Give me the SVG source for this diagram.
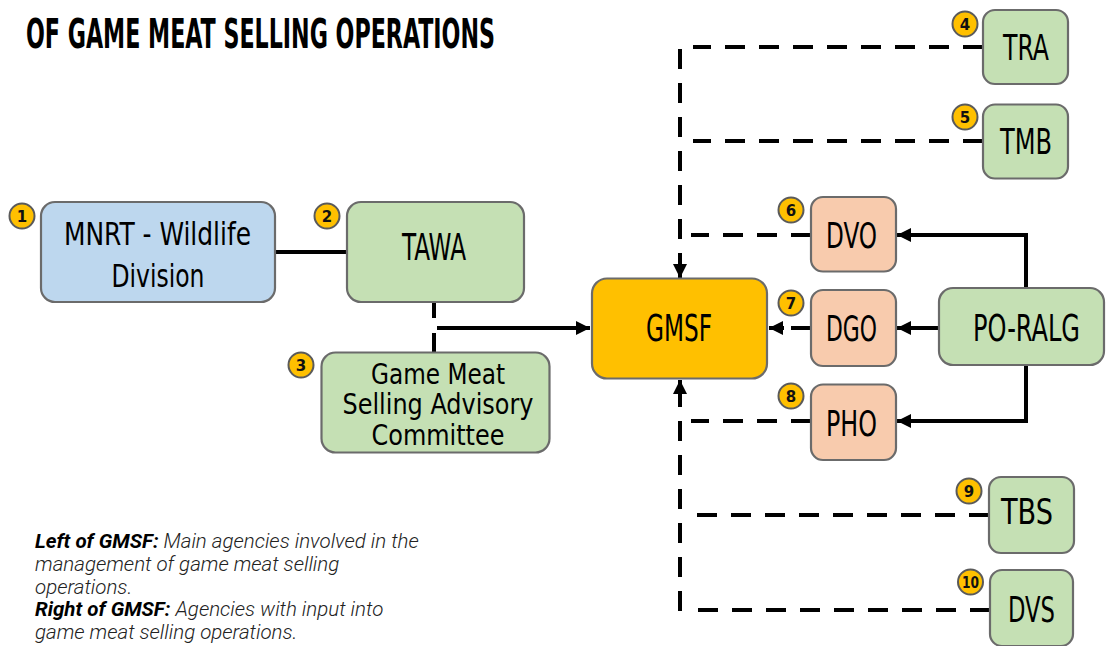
<svg xmlns="http://www.w3.org/2000/svg" width="1106" height="646" viewBox="0 0 1106 646">
<defs>
<style>
.box{stroke:#6b6b6b;stroke-width:2.2}
.blue{fill:#bdd7ee}
.green{fill:#c5e0b4}
.salmon{fill:#f8cbad}
.gold{fill:#ffc000}
.lbl{font-family:'DejaVu Sans Condensed','DejaVu Sans',sans-serif;font-stretch:condensed;fill:#000;text-anchor:middle}
.badge circle{fill:#ffc000;stroke:#5a5a5a;stroke-width:2}
.badge text{font-family:'DejaVu Sans','Liberation Sans',sans-serif;font-weight:bold;font-size:15px;text-anchor:middle;fill:#111}
.solid{fill:none;stroke:#000;stroke-width:4}
.dash{fill:none;stroke:#000;stroke-width:4;stroke-dasharray:20 14}
.cap{font-family:Roboto,'Liberation Sans',sans-serif;font-style:italic;font-size:20.5px;font-weight:300;fill:#222}
.cap .b{font-weight:bold;fill:#000}
</style>
<marker id="arr" viewBox="0 0 14 14" refX="14" refY="7" markerWidth="14" markerHeight="14" markerUnits="userSpaceOnUse" orient="auto">
<path d="M0,0 L14,7 L0,14 z" fill="#000"/>
</marker>
</defs>
<rect width="1106" height="646" fill="#fff"/>

<text x="26" y="48" font-family="'DejaVu Sans Condensed','DejaVu Sans',sans-serif" font-weight="bold" font-size="41" textLength="469" lengthAdjust="spacingAndGlyphs" fill="#000">OF GAME MEAT SELLING OPERATIONS</text>

<g id="connectors">
<path class="solid" d="M275,252 H347"/>
<path class="solid" d="M434,302 V318 M434,333 V352"/>
<path class="solid" d="M437,328 H590" marker-end="url(#arr)"/>
<path class="dash" d="M983,47 H693 M680,49 V278" />
<path class="solid" d="M680,262 V278" marker-end="url(#arr)"/>
<path class="dash" d="M983,141 H693"/>
<path class="dash" d="M811,235 H691"/>
<path class="dash" d="M990,610 H697 M680,611 V381"/>
<path class="solid" d="M680,396 V380" marker-end="url(#arr)"/>
<path class="dash" d="M989,515 H697"/>
<path class="dash" d="M811,421 H691"/>
<path class="solid" d="M811,328 H791"/>
<path class="solid" d="M784,328 H769" marker-end="url(#arr)"/>
<path class="solid" d="M939,328 H897" marker-end="url(#arr)"/>
<path class="solid" d="M1026,288 V235 H897" marker-end="url(#arr)"/>
<path class="solid" d="M1026,366 V421 H897" marker-end="url(#arr)"/>
</g>

<g id="mnrt">
<rect class="box blue" x="41" y="202" width="234" height="100" rx="14"/>
<text class="lbl" x="157.5" y="245" font-size="32" textLength="187" lengthAdjust="spacingAndGlyphs">MNRT - Wildlife</text>
<text class="lbl" x="158" y="286.5" font-size="32" textLength="93" lengthAdjust="spacingAndGlyphs">Division</text>
</g>
<g id="tawa">
<rect class="box green" x="347" y="202" width="177" height="100" rx="14"/>
<text class="lbl" x="434" y="260" font-size="37" textLength="64" lengthAdjust="spacingAndGlyphs">TAWA</text>
</g>
<g id="advisory">
<rect class="box green" x="321.5" y="352.5" width="228" height="100" rx="14"/>
<text class="lbl" x="438" y="384" font-size="29" textLength="134" lengthAdjust="spacingAndGlyphs">Game Meat</text>
<text class="lbl" x="438" y="414" font-size="29" textLength="191" lengthAdjust="spacingAndGlyphs">Selling Advisory</text>
<text class="lbl" x="438" y="445" font-size="29" textLength="133" lengthAdjust="spacingAndGlyphs">Committee</text>
</g>
<g id="gmsf">
<rect class="box gold" x="592" y="278.5" width="175" height="100" rx="15"/>
<text class="lbl" x="679" y="341" font-size="37" textLength="66" lengthAdjust="spacingAndGlyphs">GMSF</text>
</g>
<g id="tra">
<rect class="box green" x="983" y="10" width="85" height="74" rx="12"/>
<text class="lbl" x="1026" y="60" font-size="35" textLength="46" lengthAdjust="spacingAndGlyphs">TRA</text>
</g>
<g id="tmb">
<rect class="box green" x="983" y="104.5" width="85" height="74" rx="12"/>
<text class="lbl" x="1026" y="154" font-size="35" textLength="52" lengthAdjust="spacingAndGlyphs">TMB</text>
</g>
<g id="dvo">
<rect class="box salmon" x="811" y="197" width="85" height="74.5" rx="12"/>
<text class="lbl" x="851.5" y="248" font-size="35" textLength="51" lengthAdjust="spacingAndGlyphs">DVO</text>
</g>
<g id="dgo">
<rect class="box salmon" x="811" y="290" width="85" height="76" rx="12"/>
<text class="lbl" x="851.5" y="341" font-size="35" textLength="51" lengthAdjust="spacingAndGlyphs">DGO</text>
</g>
<g id="pho">
<rect class="box salmon" x="811" y="384.5" width="85" height="75.5" rx="12"/>
<text class="lbl" x="851.5" y="435.5" font-size="35" textLength="51" lengthAdjust="spacingAndGlyphs">PHO</text>
</g>
<g id="poralg">
<rect class="box green" x="939" y="288" width="165" height="77" rx="14"/>
<text class="lbl" x="1026.5" y="341" font-size="38" textLength="107" lengthAdjust="spacingAndGlyphs">PO-RALG</text>
</g>
<g id="tbs">
<rect class="box green" x="989" y="477" width="85" height="76" rx="12"/>
<text class="lbl" x="1027" y="524" font-size="35" textLength="52" lengthAdjust="spacingAndGlyphs">TBS</text>
</g>
<g id="dvs">
<rect class="box green" x="990" y="570" width="83" height="76" rx="12"/>
<text class="lbl" x="1031.5" y="621.5" font-size="36" textLength="47" lengthAdjust="spacingAndGlyphs">DVS</text>
</g>

<g id="badges">
<g class="badge"><circle cx="22" cy="216" r="12.5"/><text x="22" y="221.5">1</text></g>
<g class="badge"><circle cx="327" cy="216" r="12.5"/><text x="327" y="221.5">2</text></g>
<g class="badge"><circle cx="301" cy="365" r="12.5"/><text x="301" y="370.5">3</text></g>
<g class="badge"><circle cx="965" cy="24" r="12.5"/><text x="965" y="29.5">4</text></g>
<g class="badge"><circle cx="965" cy="117" r="12.5"/><text x="965" y="122.5">5</text></g>
<g class="badge"><circle cx="791" cy="210" r="12.5"/><text x="791" y="215.5">6</text></g>
<g class="badge"><circle cx="791" cy="303" r="12.5"/><text x="791" y="308.5">7</text></g>
<g class="badge"><circle cx="791" cy="396" r="12.5"/><text x="791" y="401.5">8</text></g>
<g class="badge"><circle cx="969" cy="491" r="12.5"/><text x="969" y="496.5">9</text></g>
<g class="badge"><circle cx="970.5" cy="582" r="12.5"/><text x="970.5" y="587.5" textLength="17" lengthAdjust="spacingAndGlyphs">10</text></g>
</g>

<text class="cap" x="35" y="548"><tspan class="b">Left of GMSF:</tspan> Main agencies involved in the</text>
<text class="cap" x="35" y="571">management of game meat selling</text>
<text class="cap" x="35" y="594">operations.</text>
<text class="cap" x="35" y="616"><tspan class="b">Right of GMSF:</tspan> Agencies with input into</text>
<text class="cap" x="35" y="639">game meat selling operations.</text>
</svg>
